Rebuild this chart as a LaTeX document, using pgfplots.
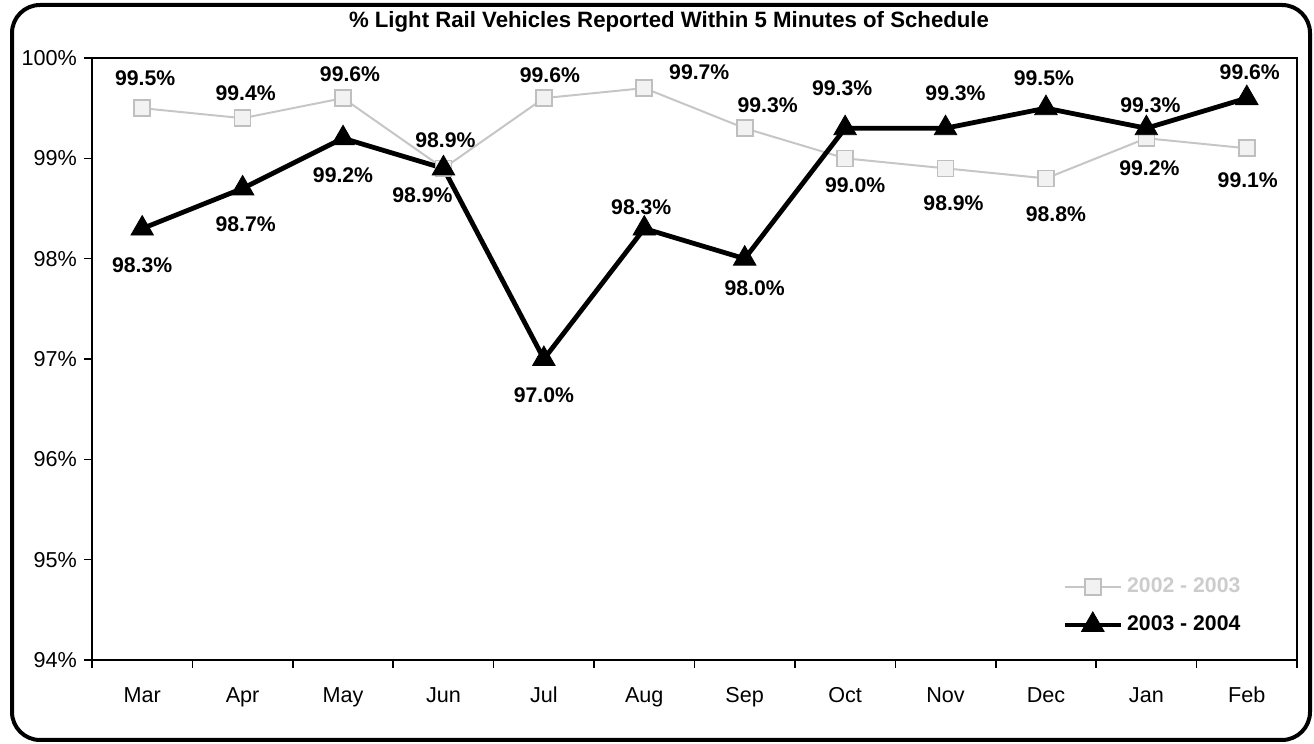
\documentclass[border=0pt]{standalone}
\usepackage{pgfplots}
\pgfplotsset{compat=1.18}
\usepackage{pgfplotstable}
\usepackage{fontspec}
\setmainfont{Liberation Sans}

% 2002 - 2003 (gray squares)
\pgfplotstableread{
x y lab dx dy
0 99.5 99.5 1.5 15
1 99.4 99.4 1.5 12.5
2 99.6 99.6 3.5 12
3 98.9 98.9 1 14
4 99.6 99.6 3 11.5
5 99.7 99.7 27.5 8
6 99.3 99.3 11.5 11.5
7 99.0 99.0 5 -13.5
8 98.9 98.9 4 -17.5
9 98.8 98.8 5 -18
10 99.2 99.2 1.5 -15
11 99.1 99.1 0.5 -16
}\grayt

% 2003 - 2004 (black triangles)
\pgfplotstableread{
x y lab dx dy
0 98.3 98.3 0 -18.5
1 98.7 98.7 1.5 -18
2 99.2 99.2 0 -18.5
3 98.9 98.9 -10.5 -13.5
4 97.0 97.0 0 -18
5 98.3 98.3 -1.5 10.5
6 98.0 98.0 5 -15
7 99.3 99.3 -1.5 20
8 99.3 99.3 5 17.5
9 99.5 99.5 -1 15
10 99.3 99.3 2 11.5
11 99.6 99.6 1.5 13
}\blackt

\begin{document}
\begin{tikzpicture}
\useasboundingbox (0,0) rectangle (657pt,372pt);
\draw[line width=2pt, rounded corners=14pt] (6pt,2pt) rectangle (655pt,369.5pt);
\node[font=\fontsize{11.1}{13}\selectfont\bfseries] at (334.5pt,361pt) {\% Light Rail Vehicles Reported Within 5 Minutes of Schedule};
\begin{axis}[
  at={(46pt,42pt)}, anchor=south west,
  width=602.5pt, height=301pt, scale only axis,
  xmin=-0.5, xmax=11.5, ymin=94, ymax=100,
  xtick={-0.5,0.5,...,11.5}, xticklabels={},
  extra x ticks={0,1,...,11},
  extra x tick labels={Mar,Apr,May,Jun,Jul,Aug,Sep,Oct,Nov,Dec,Jan,Feb},
  extra x tick style={major tick length=0pt,
    xticklabel style={yshift=-9.5pt, text height=1.6ex, text depth=0.4ex}},
  ytick={94,95,...,100},
  yticklabels={94\%,95\%,96\%,97\%,98\%,99\%,100\%},
  tick pos=left,
  tick align=outside, major tick length=4pt,
  tick style={black, line width=0.8pt},
  axis line style={line width=1pt},
  ticklabel style={font=\fontsize{10.8}{12}\selectfont},
  clip=false,
  legend style={at={(0.80,0.15)}, anchor=north west, draw=none, fill=none,
    font=\fontsize{10.6}{12}\selectfont\bfseries, row sep=6pt},
  legend cell align=left,
  legend image code/.code={\draw[mark repeat=2,mark phase=2,#1] plot coordinates {(0pt,0pt)(14pt,0pt)(28pt,0pt)};},
]
\addplot[color=gray!45, line width=1pt, mark=square*, mark size=4pt,
  mark options={fill=gray!10, draw=gray!50, line width=0.8pt},
  point meta=explicit symbolic,
  nodes near coords={\pgfplotspointmeta\%},
  visualization depends on={\thisrow{dx} \as \labdx},
  visualization depends on={\thisrow{dy} \as \labdy},
  every node near coord/.append style={anchor=center, xshift=\labdx, yshift=\labdy,
    font=\fontsize{10.6}{12}\selectfont\bfseries, text=black}]
  table[x=x,y=y,meta=lab]{\grayt};
\addlegendentry{\textcolor{gray!40}{2002 - 2003}}
\addplot[color=black, line width=2.4pt, mark=triangle*, mark size=6.5pt,
  mark options={solid, line width=0.4pt},
  point meta=explicit symbolic,
  nodes near coords={\pgfplotspointmeta\%},
  visualization depends on={\thisrow{dx} \as \labdx},
  visualization depends on={\thisrow{dy} \as \labdy},
  every node near coord/.append style={anchor=center, xshift=\labdx, yshift=\labdy,
    font=\fontsize{10.6}{12}\selectfont\bfseries, text=black}]
  table[x=x,y=y,meta=lab]{\blackt};
\addlegendentry{2003 - 2004}
\end{axis}
\end{tikzpicture}
\end{document}
